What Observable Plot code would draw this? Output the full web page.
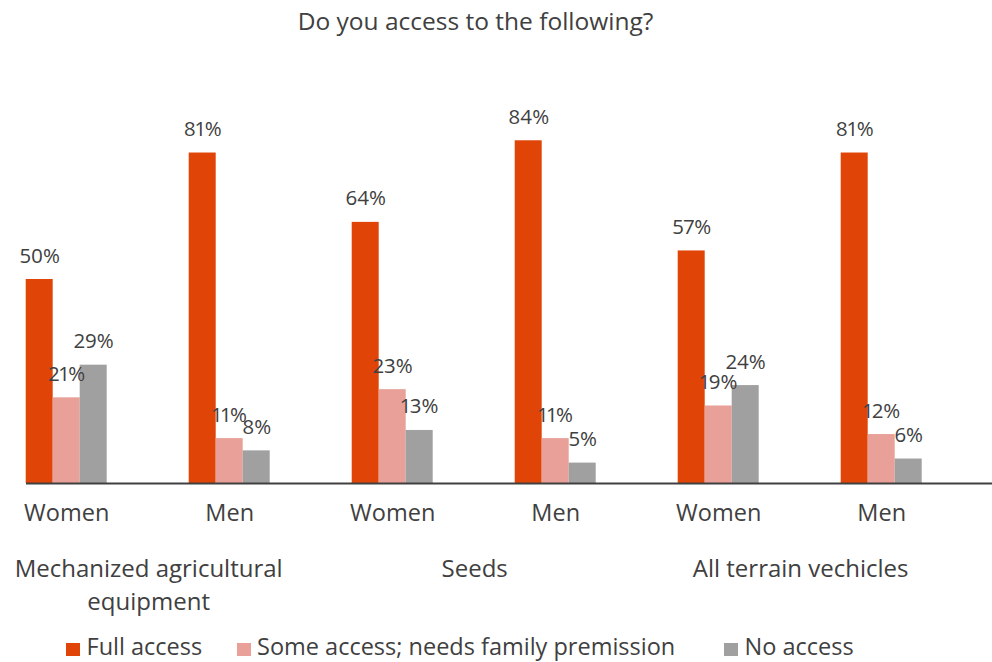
<!DOCTYPE html>
<html>
<head>
<meta charset="utf-8">
<script src="https://cdn.jsdelivr.net/npm/d3@7"></script>
<script src="https://cdn.jsdelivr.net/npm/@observablehq/plot@0.6"></script>
<style>
  body { margin: 0; background: #fff; font-family: "Open Sans", sans-serif; color: #404040; }
  #wrap { position: relative; width: 992px; height: 662px; overflow: hidden; background: #fff; }
  #title { position: absolute; left: 475.5px; top: 9.2px; transform: translateX(-50%); white-space: nowrap; font-size: 24.5px; line-height: 24.5px; }
  #chart { position: absolute; left: 0; top: 44px; }
  .legtext { position: absolute; top: 634.6px; font-size: 23.5px; line-height: 23.5px; white-space: nowrap; }
  .sw { position: absolute; top: 643px; width: 14px; height: 13px; }
</style>
</head>
<body>
<div id="wrap">
  <div id="title">Do you access to the following?</div>
  <div id="chart"></div>
  <div id="legend"></div>
</div>
<script>
// ---- data ----
const categories = ["Mechanized agricultural equipment", "Seeds", "All terrain vechicles"];
const categoryLabels = ["Mechanized agricultural\nequipment", "Seeds", "All terrain vechicles"];
const genders = ["Women", "Men"];
const series = ["Full access", "Some access; needs family premission", "No access"];
const fullAccess = [50, 81, 64, 84, 57, 81];
const someAccess = [21, 11, 23, 11, 19, 12];
const noAccess   = [29, 8, 13, 5, 24, 6];
const colors = ["#E04507", "#E8A098", "#A0A0A0"];

// ---- build tables ----
const keys = [];
categories.forEach(c => genders.forEach(g => keys.push(c + "|" + g)));
const seriesValues = [fullAccess, someAccess, noAccess];
const rows = [];
keys.forEach((k, i) => seriesValues.forEach((arr, j) => rows.push({key: k, series: series[j], value: arr[i]})));
const genderRows = keys.map(k => ({key: k, gender: k.split("|")[1]}));
const catRows = categories.map((c, i) => ({key: c + "|" + genders[0], label: categoryLabels[i]}));

const step = 163.9;
const left = 23.3;
const W = 992;

const chart = Plot.plot({
  width: W,
  height: 580,
  marginLeft: left,
  marginRight: W - left - 6 * step,
  marginTop: 31,
  marginBottom: 141,
  fx: {domain: keys, padding: 0, axis: null},
  x: {domain: series, paddingInner: 0, paddingOuter: 1.5, align: 0, axis: null},
  y: {domain: [0, 100], axis: null},
  color: {domain: series, range: colors},
  style: {fontFamily: "'Open Sans', sans-serif", color: "#404040", background: "#fff"},
  marks: [
    Plot.barY(rows, {fx: "key", x: "series", y: "value", fill: "series"}),
    Plot.ruleY([0], {stroke: "#404040", strokeWidth: 2}),
    Plot.text(rows, {fx: "key", x: "series", y: "value", text: d => d.value + "%", lineAnchor: "bottom", dy: -17, fontSize: 20.5, fontVariant: "proportional-nums", fill: "#404040"}),
    Plot.text(genderRows, {fx: "key", x: () => series[1], frameAnchor: "bottom", text: "gender", lineAnchor: "bottom", dy: 37.7, fontSize: 23.5, fill: "#404040"}),
    Plot.text(catRows, {fx: "key", x: () => series[1], frameAnchor: "bottom", text: "label", lineAnchor: "top", dy: 70.2, dx: step / 2, fontSize: 24, lineHeight: 1.37, fill: "#404040"})
  ]
});
document.getElementById("chart").appendChild(chart);

// ---- legend ----
const legend = document.getElementById("legend");
const swX = [66, 236.5, 724];
series.forEach((s, i) => {
  const sw = document.createElement("div");
  sw.className = "sw";
  sw.style.left = swX[i] + "px";
  sw.style.background = colors[i];
  legend.appendChild(sw);
  const t = document.createElement("div");
  t.className = "legtext";
  t.style.left = (swX[i] + 20.5) + "px";
  t.textContent = s;
  legend.appendChild(t);
});
</script>
</body>
</html>
